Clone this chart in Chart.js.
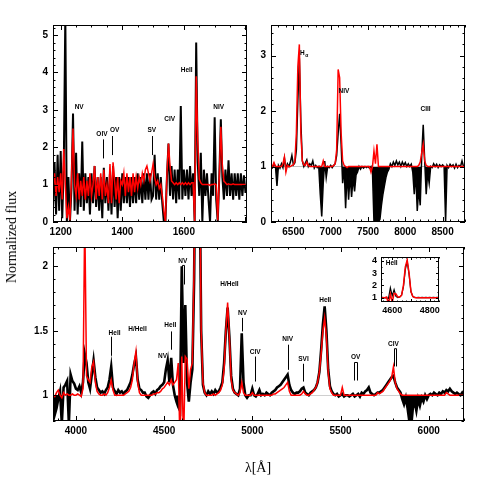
<!DOCTYPE html>
<html>
<head>
<meta charset="utf-8">
<script src="https://cdn.jsdelivr.net/npm/chart.js@4.4.1/dist/chart.umd.min.js"></script>
<style>
  body { margin: 0; background: #fff; }
  #wrap { position: relative; width: 491px; height: 491px; overflow: hidden; background: #fff; }
  canvas { position: absolute; left: 0; top: 0; }
  .title { position: absolute; font-family: "Liberation Serif", serif; font-size: 14px; color: #000; white-space: nowrap; transform: translate(-50%, -50%); }
  #ytitle { left: 12px; top: 237px; transform: translate(-50%, -50%) rotate(-90deg); }
  #xtitle { left: 258px; top: 468px; }
</style>
</head>
<body>
<div id="wrap">
  <canvas id="uv" width="491" height="491"></canvas>
  <canvas id="ir" width="491" height="491"></canvas>
  <canvas id="opt" width="491" height="491"></canvas>
  <canvas id="inset" width="491" height="491"></canvas>
  <div class="title" id="ytitle">Normalized flux</div>
  <div class="title" id="xtitle">λ[Å]</div>
</div>
<script>
// ================= DATA =================
// UV panel: 1175..1800 A, every 5 A
const uvStart = 1175, uvStep = 5;
const uvObserved = [
  0.4, 1.6, 0.2, 1.8, 0.3, 1.9, 0.1, 1.5, 5.5, 0.0,
  1.2, 0.0, 0.9, 2.9, 0.3, 1.85, 0.2, 1.3, 0.4, 2.15,
  0.3, 1.3, 0.5, 1.2, 0.2, 1.3, 0.5, 1.5, 0.4, 1.2,
  0.3, 1.2, 0.1, 1.45, 0.5, 1.2, 0.3, 1.3, 0.2, 1.5,
  0.4, 1.2, 0.1, 1.2, 0.3, 1.3, 0.5, 1.2, 0.5, 1.2,
  0.4, 1.2, 0.5, 1.2, 0.5, 1.3, 0.6, 1.2, 0.5, 1.3,
  0.6, 1.3, 0.6, 1.3, 0.6, 0.7, 1.8, 0.6, 1.3, 0.6,
  1.2, 0.5, 0.0, 0.0, 1.2, 2.1, 0.7, 1.5, 0.6, 1.4,
  0.5, 1.4, 0.6, 3.1, 0.6, 1.4, 0.7, 1.4, 0.6, 1.5,
  0.7, 1.3, 0.0, 4.8, 1.6, 0.7, 1.85, 0.0, 1.4, 0.7,
  1.3, 0.6, 0.0, 1.3, 0.7, 2.8, 0.6, 0.0, 1.2, 2.75,
  1.2, 0.6, 1.4, 0.7, 1.65, 0.7, 1.3, 0.6, 1.3, 0.7,
  1.3, 0.6, 1.3, 0.7, 1.25, 0.8
];
const uvModel = [
  0.9, 1.3, 0.7, 1.2, 0.8, 1.3, 0.6, 1.95, 1.0, 0.1,
  0.4, 0.05, 1.2, 2.5, 1.0, 0.7, 1.3, 0.6, 1.1, 0.7,
  1.2, 0.6, 1.1, 0.7, 1.3, 0.7, 1.0, 1.5, 0.6, 1.2,
  0.7, 1.3, 0.6, 1.4, 0.7, 1.0, 0.5, 1.55, 0.5, 1.6,
  1.1, 0.6, 1.2, 0.5, 1.1, 1.0, 1.3, 0.7, 1.3, 0.8,
  1.2, 0.7, 1.3, 0.8, 1.2, 0.9, 1.2, 1.0, 1.3, 1.1,
  1.4, 1.5, 1.3, 1.1, 1.3, 1.55, 1.2, 1.0, 1.1, 0.9,
  1.0, 0.7, 0.3, 0.0, 1.3, 2.1, 1.5, 1.1, 1.05, 1.0,
  1.05, 1.0, 1.05, 1.0, 1.05, 1.0, 1.05, 1.0, 1.05, 1.0,
  1.05, 1.05, 0.0, 3.9, 2.2, 1.15, 1.05, 1.0, 1.0, 1.0,
  1.0, 1.0, 0.98, 1.0, 1.0, 1.02, 1.0, 0.05, 1.2, 2.55,
  1.5, 1.1, 1.05, 1.0, 1.02, 1.0, 1.0, 1.02, 1.0, 1.0,
  1.0, 1.0, 1.0, 1.0, 1.0, 1.0
];
const uvTicksX = [1200, 1400, 1600];
const uvTicksY = [0, 1, 2, 3, 4, 5];

// red/near-IR panel: 6200..8800 A, every 20 A
const irStart = 6200, irStep = 20;
const irObserved = [
  1.02, 0.98, 1.05, 1.0, 0.65, 1.02, 0.97, 1.05, 0.98, 1.15,
  0.95, 1.05, 1.0, 1.08, 1.2, 1.03, 1.07, 1.3, 2.2, 2.95,
  1.8, 1.1, 1.0, 1.06, 1.12, 1.0, 1.05, 1.02, 1.1, 0.97,
  1.02, 0.98, 1.0, 0.5, 0.1, 0.7, 1.1, 0.8, 1.0, 0.98,
  1.02, 0.98, 1.02, 1.05, 1.2, 1.6, 1.95, 1.4, 0.7, 1.0,
  0.25, 0.9, 0.4, 0.85, 0.45, 0.8, 0.55, 0.85, 0.9, 1.0,
  0.95, 1.0, 0.97, 1.0, 0.98, 1.0, 0.97, 1.0, 0.9, 0.0,
  0.0, 0.0, 0.0, 0.05, 0.3, 0.5, 0.65, 0.8, 0.9, 0.95,
  1.05, 1.0, 1.08, 1.02, 1.1, 1.03, 1.08, 1.0, 1.08, 1.02,
  1.07, 1.0, 1.05, 1.0, 1.04, 0.9, 0.5, 0.9, 0.2, 0.6,
  0.3, 1.2, 1.75, 1.1, 0.5, 0.9, 0.7, 1.0, 0.98, 1.05,
  1.0, 1.04, 0.98, 1.03, 1.0, 1.03, 1.0, 0.0, 1.02, 0.98,
  1.04, 1.0, 1.03, 0.97, 1.04, 0.98, 1.02, 1.0, 1.1, 1.0,
  1.02
];
const irModel = [
  1.0, 1.0, 1.07, 1.0, 1.0, 1.0, 1.0, 1.0, 1.05, 1.17,
  0.9, 1.02, 1.0, 1.0, 1.02, 1.03, 1.1, 1.6, 2.8, 3.2,
  1.6, 1.1, 1.03, 1.02, 1.08, 1.02, 1.0, 1.0, 1.0, 1.0,
  1.0, 1.0, 1.0, 1.0, 1.0, 1.1, 1.0, 1.0, 1.0, 1.0,
  1.0, 1.0, 1.02, 1.05, 1.3, 2.75, 2.6, 1.6, 1.1, 1.02,
  1.0, 0.98, 1.0, 1.0, 1.0, 1.0, 1.0, 1.0, 1.0, 1.0,
  1.0, 1.0, 1.0, 1.0, 1.0, 1.0, 1.0, 0.9, 1.0, 1.28,
  1.05, 1.4, 1.0, 1.0, 1.0, 1.0, 1.0, 1.0, 1.0, 1.0,
  1.0, 1.0, 1.0, 1.0, 1.0, 1.0, 1.0, 1.0, 1.0, 1.0,
  1.0, 1.0, 1.0, 1.0, 1.0, 1.0, 1.0, 1.0, 1.0, 1.02,
  1.08, 1.25, 1.4, 1.1, 1.02, 1.0, 1.0, 1.0, 1.0, 1.0,
  1.0, 1.0, 1.0, 1.0, 1.0, 1.0, 1.0, 1.0, 1.0, 1.0,
  1.0, 1.0, 1.0, 1.0, 1.0, 1.0, 1.0, 1.0, 1.0, 1.0,
  1.0
];
const irTicksX = [6500, 7000, 7500, 8000, 8500];
const irTicksY = [0, 1, 2, 3];

// optical panel: 3870..6200 A, every 10 A
const optStart = 3870, optStep = 10;
const optObserved = [
  0.80, 0.85, 0.90, 0.97, 1.03, 0.78, 1.06, 1.08, 1.11, 0.78,
  1.16, 1.11, 1.09, 1.05, 1.04, 1.07, 1.02, 1.10, 1.32, 1.25,
  1.10, 1.05, 1.16, 1.27, 1.14, 1.06, 1.04, 1.02, 1.03, 1.01,
  1.04, 1.06, 1.12, 1.22, 1.06, 1.03, 1.01, 1.04, 1.02, 1.03,
  1.01, 1.03, 1.04, 1.07, 1.10, 1.16, 1.24, 1.30, 1.12, 1.05,
  1.04, 1.02, 1.02, 0.99, 0.98, 1.00, 1.02, 1.03, 1.01, 1.04,
  1.05, 1.07, 1.08, 1.10, 1.20, 1.27, 1.10, 1.29, 1.08, 1.00,
  0.95, 0.91, 0.88, 2.00, 1.25, 1.70, 1.10, 0.95, 1.10, 1.20,
  1.90, 3.30, 3.95, 2.90, 1.50, 1.08, 1.02, 1.00, 1.03, 1.01,
  1.03, 1.01, 1.04, 1.02, 1.03, 1.06, 1.10, 1.25, 1.50, 1.68,
  1.45, 1.15, 1.05, 1.02, 1.01, 1.00, 1.05, 1.48, 1.10, 1.00,
  0.98, 1.00, 1.00, 1.05, 1.00, 0.99, 1.01, 1.04, 1.00, 1.01,
  1.00, 1.02, 1.01, 1.00, 1.02, 1.03, 1.04, 1.06, 1.07, 1.08,
  1.10, 1.12, 1.14, 1.16, 1.08, 1.04, 1.02, 1.01, 1.02, 1.02,
  1.03, 1.05, 1.06, 1.02, 1.01, 1.00, 1.02, 1.03, 1.04, 1.06,
  1.10, 1.18, 1.35, 1.55, 1.69, 1.50, 1.20, 1.07, 1.03, 1.01,
  1.00, 1.01, 0.99, 1.00, 1.01, 0.99, 1.00, 1.00, 0.99, 1.00,
  1.01, 0.99, 1.00, 1.01, 0.99, 1.02, 1.01, 1.03, 1.04, 1.06,
  1.02, 1.01, 1.00, 1.01, 1.02, 1.02, 1.03, 1.04, 1.06, 1.08,
  1.10, 1.12, 1.14, 1.15, 1.10, 1.06, 1.04, 1.02, 0.97, 0.93,
  0.98, 0.90, 0.80, 0.75, 0.90, 0.95, 0.88, 0.97, 0.92, 0.98,
  0.95, 1.00, 0.97, 1.00, 1.01, 1.00, 1.02, 1.01, 1.00, 1.02,
  1.01, 1.03, 1.02, 1.04, 1.03, 1.05, 1.03, 1.02, 1.01, 1.02,
  1.01, 1.00, 1.02, 1.00
];
const optModel = [
  1.00, 0.99, 1.02, 1.04, 1.00, 0.98, 1.02, 1.00, 1.01, 1.00,
  1.00, 1.01, 1.00, 1.00, 1.01, 1.00, 0.99, 1.05, 2.40, 1.15,
  1.12, 1.10, 1.22, 1.26, 1.10, 1.03, 1.01, 1.00, 1.00, 1.01,
  1.00, 1.02, 1.06, 1.12, 1.04, 1.00, 1.00, 1.00, 1.00, 1.00,
  1.00, 1.01, 1.02, 1.03, 1.06, 1.12, 1.25, 1.34, 1.10, 1.02,
  1.00, 1.00, 1.00, 1.00, 1.00, 1.00, 1.00, 1.01, 1.01, 1.02,
  1.02, 1.03, 1.05, 1.06, 1.08, 1.10, 1.08, 1.12, 1.08, 1.10,
  1.12, 1.25, 0.60, 1.30, 0.60, 1.30, 1.28, 1.05, 1.20, 1.25,
  2.00, 3.50, 4.05, 3.00, 1.50, 1.10, 1.02, 1.00, 1.00, 1.00,
  1.00, 1.01, 1.00, 1.01, 1.02, 1.04, 1.08, 1.20, 1.50, 1.72,
  1.45, 1.12, 1.04, 1.02, 1.01, 1.00, 1.02, 1.10, 1.02, 1.00,
  1.00, 1.00, 1.00, 1.02, 1.00, 1.00, 1.00, 1.00, 1.00, 1.00,
  1.00, 1.00, 1.00, 1.00, 1.00, 1.01, 1.01, 1.02, 1.03, 1.04,
  1.05, 1.06, 1.08, 1.10, 1.03, 1.00, 1.00, 1.00, 1.00, 1.00,
  1.00, 1.01, 1.03, 1.01, 1.00, 1.00, 1.01, 1.02, 1.04, 1.06,
  1.10, 1.18, 1.32, 1.50, 1.60, 1.45, 1.18, 1.05, 1.02, 1.00,
  1.00, 1.00, 1.00, 1.00, 1.06, 1.00, 1.00, 1.00, 1.00, 1.00,
  1.00, 1.00, 1.00, 1.00, 1.00, 1.00, 1.00, 1.00, 1.00, 1.00,
  1.00, 1.00, 1.00, 1.00, 1.02, 1.01, 1.02, 1.03, 1.05, 1.07,
  1.09, 1.11, 1.14, 1.22, 1.10, 1.05, 1.03, 1.01, 1.00, 1.00,
  1.00, 1.00, 1.00, 1.00, 1.00, 1.00, 1.00, 1.00, 1.00, 1.00,
  1.00, 1.00, 1.00, 1.00, 1.00, 1.00, 1.00, 1.00, 1.00, 1.00,
  1.00, 1.00, 1.00, 1.02, 1.01, 1.00, 1.00, 1.00, 1.00, 1.00,
  1.00, 1.00, 1.00, 1.00
];
const optTicksX = [4000, 4500, 5000, 5500, 6000];
const optTicksY = [1, 1.5, 2];

// inset around HeII 4686: 4540..4850 A, every 10 A
const insetStart = 4540, insetStep = 10;
const insetObserved = [
  1.00, 1.02, 0.98, 1.00, 0.92, 1.80, 1.15, 1.65, 1.10, 1.00,
  1.05, 1.20, 1.90, 3.30, 3.95, 2.90, 1.50, 1.10, 1.02, 1.00,
  1.02, 1.00, 1.02, 1.00, 1.02, 1.00, 1.02, 1.00, 1.02, 1.00,
  1.02, 1.00
];
const insetModel = [
  1.00, 1.00, 1.00, 1.05, 0.50, 1.30, 0.60, 1.35, 1.30, 1.05,
  1.05, 1.20, 2.00, 3.50, 4.05, 3.00, 1.50, 1.10, 1.02, 1.00,
  1.00, 1.00, 1.00, 1.00, 1.00, 1.00, 1.00, 1.00, 1.00, 1.00,
  1.00, 1.00
];
const insetTicksX = [4600, 4800];
const insetTicksY = [1, 2, 3, 4];

// line identifications (text position + marker, in data units)
const uvNotes = [
  { t: 'NV', x: 1260, y: 3.06 },
  { t: 'OIV', x: 1334, y: 2.35, line: [[1337, 2.21], [1337, 1.70]] },
  { t: 'OV', x: 1375, y: 2.46, line: [[1368, 2.30], [1368, 1.79]] },
  { t: 'SV', x: 1496, y: 2.46, line: [[1498, 2.30], [1498, 1.79]] },
  { t: 'CIV', x: 1554, y: 2.76 },
  { t: 'HeII', x: 1609, y: 4.07 },
  { t: 'NIV', x: 1713, y: 3.06 }
];
const irNotes = [
  { t: 'H', sub: 'α', x: 6640, y: 3.05 },
  { t: 'NIV', x: 7178, y: 2.35 },
  { t: 'CIII', x: 8272, y: 2.03 }
];
const optNotes = [
  { t: 'HeII', x: 4219, y: 1.483, line: [[4196, 1.454], [4196, 1.306]] },
  { t: 'H/HeII', x: 4349, y: 1.514 },
  { t: 'NV', x: 4491, y: 1.30 },
  { t: 'HeII', x: 4535, y: 1.54, line: [[4538, 1.495], [4538, 1.353]] },
  { t: 'NV', x: 4606, y: 2.036, line: [[4601, 1.859], [4601, 2.007], [4615, 2.007], [4615, 1.859]] },
  { t: 'H/HeII', x: 4870, y: 1.865 },
  { t: 'NV', x: 4944, y: 1.633, line: [[4944, 1.60], [4944, 1.495]] },
  { t: 'CIV', x: 5016, y: 1.335, line: [[5016, 1.30], [5016, 1.106]] },
  { t: 'NIV', x: 5201, y: 1.431, line: [[5201, 1.392], [5201, 1.197]] },
  { t: 'SVI', x: 5290, y: 1.28, line: [[5290, 1.244], [5290, 1.106]] },
  { t: 'HeII', x: 5413, y: 1.737 },
  { t: 'OV', x: 5586, y: 1.296, line: [[5579, 1.114], [5579, 1.254], [5596, 1.254], [5596, 1.114]] },
  { t: 'CIV', x: 5800, y: 1.392, line: [[5803, 1.223], [5803, 1.361], [5813, 1.361], [5813, 1.223]] }
];
const insetNotes = [
  { t: 'HeII', x: 4597, y: 3.81 }
];

// ================= HELPERS =================
function points(start, step, flux) {
  return flux.map((f, i) => ({ x: start + i * step, y: f }));
}

function multiples(min, max, step) {
  const out = [];
  for (let i = Math.ceil(min / step - 1e-9); i * step <= max + 1e-9; i++) out.push(i * step);
  return out;
}

// frame with inward ticks on all 4 sides + line ids
const framePlugin = {
  id: 'frame',
  beforeDraw(chart, args, o) {
    if (!o.white) return;
    const a = chart.chartArea, ctx = chart.ctx;
    ctx.save();
    ctx.fillStyle = '#fff';
    ctx.fillRect(a.left, a.top, a.right - a.left, a.bottom - a.top);
    ctx.restore();
  },
  afterDraw(chart, args, o) {
    const { ctx, chartArea: a } = chart;
    const xs = chart.scales.x, ys = chart.scales.y;
    ctx.save();
    ctx.strokeStyle = '#000';
    ctx.lineWidth = 1;
    ctx.beginPath();
    const tickX = (vals, len) => vals.forEach(v => {
      const p = Math.round(xs.getPixelForValue(v)) + 0.5;
      ctx.moveTo(p, a.bottom); ctx.lineTo(p, a.bottom - len);
      ctx.moveTo(p, a.top); ctx.lineTo(p, a.top + len);
    });
    const tickY = (vals, len) => vals.forEach(v => {
      const p = Math.round(ys.getPixelForValue(v)) + 0.5;
      ctx.moveTo(a.left, p); ctx.lineTo(a.left + len, p);
      ctx.moveTo(a.right, p); ctx.lineTo(a.right - len, p);
    });
    tickX(multiples(xs.min, xs.max, o.xMinor), o.minorLen);
    tickX(multiples(xs.min, xs.max, o.xMajor), o.majorLen);
    tickY(multiples(ys.min, ys.max, o.yMinor), o.minorLen);
    tickY(multiples(ys.min, ys.max, o.yMajor), o.majorLen);
    ctx.stroke();
    ctx.strokeRect(Math.round(a.left) + 0.5, Math.round(a.top) + 0.5,
      Math.round(a.right - a.left) - 1, Math.round(a.bottom - a.top) - 1);

    // line identifications
    ctx.fillStyle = '#000';
    ctx.textAlign = 'center';
    ctx.textBaseline = 'middle';
    (o.notes || []).forEach(n => {
      const px = xs.getPixelForValue(n.x), py = ys.getPixelForValue(n.y);
      ctx.font = 'bold 6.5px "Liberation Sans", sans-serif';
      if (n.sub) {
        ctx.fillText(n.t, px - 1.5, py);
        ctx.font = 'bold 5px "Liberation Sans", sans-serif';
        ctx.fillText(n.sub, px + 3, py + 2.5);
      } else {
        ctx.fillText(n.t, px, py);
      }
      if (n.line) {
        ctx.beginPath();
        n.line.forEach((pt, i) => {
          const lx = Math.round(xs.getPixelForValue(pt[0])) + 0.5;
          const ly = ys.getPixelForValue(pt[1]);
          if (i === 0) ctx.moveTo(lx, ly); else ctx.lineTo(lx, ly);
        });
        ctx.stroke();
      }
    });
    ctx.restore();
  }
};

function axis(c, horiz) {
  return {
    type: 'linear',
    min: c.min,
    max: c.max,
    grid: { display: false, drawTicks: false },
    border: { display: false },
    afterBuildTicks: s => { s.ticks = c.labels.map(v => ({ value: v })); },
    afterFit: s => {
      if (horiz) s.height = c.size; else s.width = c.size;
      s.paddingTop = 0; s.paddingBottom = 0; s.paddingLeft = 0; s.paddingRight = 0;
    },
    ticks: {
      padding: c.pad,
      autoSkip: false,
      maxRotation: 0,
      color: '#000',
      font: { family: '"Liberation Sans", sans-serif', size: c.font, weight: 'bold' },
      callback: v => String(v)
    }
  };
}

function spectrumChart(id, cfg) {
  return new Chart(document.getElementById(id), {
    type: 'line',
    data: { datasets: cfg.datasets },
    options: {
      responsive: false,
      animation: false,
      events: [],
      layout: { padding: cfg.padding },
      elements: { point: { radius: 0 }, line: { tension: 0 } },
      plugins: { legend: { display: false }, tooltip: { enabled: false }, frame: cfg.frame },
      scales: { x: axis(cfg.x, true), y: axis(cfg.y, false) }
    },
    plugins: [framePlugin]
  });
}

const belowOne = { target: { value: 1 }, above: 'rgba(0,0,0,0)', below: '#000' };

// ================= CHARTS =================
spectrumChart('uv', {
  padding: { left: 23, right: 244, top: 25, bottom: 249 },
  x: { min: 1175, max: 1805, labels: uvTicksX, size: 20, pad: 4, font: 10 },
  y: { min: 0, max: 5.27, labels: uvTicksY, size: 30, pad: 5, font: 10 },
  frame: { xMajor: 200, xMinor: 50, yMajor: 1, yMinor: 0.2, majorLen: 5, minorLen: 2.5, notes: uvNotes },
  datasets: [
    { data: points(uvStart, uvStep, uvModel), borderColor: '#ff0000', borderWidth: 1.5, order: 0 },
    { data: points(uvStart, uvStep, uvObserved), borderColor: '#000', borderWidth: 2, order: 1 }
  ]
});

spectrumChart('ir', {
  padding: { left: 241, right: 26, top: 25, bottom: 249 },
  x: { min: 6200, max: 8800, labels: irTicksX, size: 20, pad: 4, font: 10 },
  y: { min: 0, max: 3.55, labels: irTicksY, size: 30, pad: 5, font: 10 },
  frame: { xMajor: 500, xMinor: 100, yMajor: 1, yMinor: 0.2, majorLen: 5, minorLen: 2.5, notes: irNotes },
  datasets: [
    { data: points(irStart, irStep, irModel), borderColor: '#ff0000', borderWidth: 1.5, order: 0 },
    { data: points(irStart, irStep, irObserved), borderColor: '#000', borderWidth: 1.5, fill: belowOne, order: 1 }
  ]
});

spectrumChart('opt', {
  padding: { left: 23, right: 27, top: 247, bottom: 50 },
  x: { min: 3870, max: 6200, labels: optTicksX, size: 20, pad: 4, font: 10 },
  y: { min: 0.8, max: 2.15, labels: optTicksY, size: 30, pad: 5, font: 10 },
  frame: { xMajor: 500, xMinor: 100, yMajor: 0.5, yMinor: 0.1, majorLen: 5, minorLen: 2.5, notes: optNotes },
  datasets: [
    { data: points(optStart, optStep, optModel), borderColor: '#ff0000', borderWidth: 1.5, order: 0 },
    { data: points(optStart, optStep, optObserved), borderColor: '#000', borderWidth: 2.6, fill: belowOne, order: 1 }
  ]
});

spectrumChart('inset', {
  padding: { left: 361, right: 52, top: 257, bottom: 175 },
  x: { min: 4540, max: 4850, labels: insetTicksX, size: 14, pad: 3, font: 9 },
  y: { min: 0.65, max: 4.3, labels: insetTicksY, size: 20, pad: 4, font: 9 },
  frame: { white: true, xMajor: 100, xMinor: 25, yMajor: 1, yMinor: 0.5, majorLen: 3, minorLen: 1.5, notes: insetNotes },
  datasets: [
    { data: points(insetStart, insetStep, insetModel), borderColor: '#ff0000', borderWidth: 1.5, order: 0 },
    { data: points(insetStart, insetStep, insetObserved), borderColor: '#000', borderWidth: 1.2, order: 1 }
  ]
});
</script>
</body>
</html>
